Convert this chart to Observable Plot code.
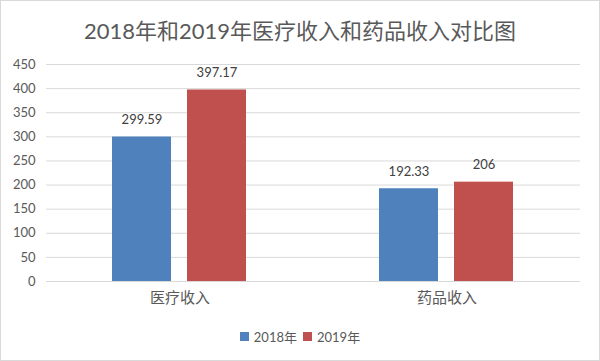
<!DOCTYPE html>
<html>
<head>
<meta charset="utf-8">
<script src="https://cdn.jsdelivr.net/npm/d3@7"></script>
<script src="https://cdn.jsdelivr.net/npm/@observablehq/plot@0.6"></script>
<style>
  html, body { margin: 0; padding: 0; background: #fff; }
  #wrap { width: 600px; height: 361px; box-sizing: border-box; border: 1px solid #d9d9d9; font-family: Lato, "Noto Sans CJK SC", sans-serif; overflow: hidden; }
  #title { height: 50px; box-sizing: border-box; padding-top: 8px; line-height: 44px; text-align: center; font-size: 22px; color: #595959; }
  #legend { height: 47px; display: flex; justify-content: center; align-items: center; font-size: 13px; color: #595959; padding-left: 0px; }
  .item { display: flex; align-items: center; margin: 0 3px; }
  .sw { width: 9px; height: 9px; margin-right: 5px; }
  svg { display: block; }
</style>
</head>
<body>
<div id="wrap">
  <div id="title">2018年和2019年医疗收入和药品收入对比图</div>
  <div id="chart"></div>
  <div id="legend"></div>
</div>
<script>
const categories = ["医疗收入", "药品收入"];
const years = ["2018年", "2019年"];
const values2018 = [299.59, 192.33];
const values2019 = [397.17, 206];
const yTicks = [0, 50, 100, 150, 200, 250, 300, 350, 400, 450];
const colors = ["#4f81bd", "#c0504d"];

const data = [];
categories.forEach((c, i) => {
  data.push({category: c, year: years[0], value: values2018[i]});
  data.push({category: c, year: years[1], value: values2019[i]});
});

const chart = Plot.plot({
  width: 598,
  height: 262,
  marginLeft: 45,
  marginRight: 19,
  marginTop: 13,
  marginBottom: 32,
  style: {fontFamily: 'Lato, "Noto Sans CJK SC", sans-serif', background: "#fff"},
  fx: {domain: categories, paddingInner: 0, paddingOuter: 0, label: null},
  x: {domain: years, paddingInner: 0.21, paddingOuter: 0.862, axis: null},
  y: {domain: [0, 450], ticks: yTicks, label: null},
  color: {domain: years, range: colors},
  marks: [
    Plot.gridY(yTicks, {stroke: "#d9d9d9", strokeOpacity: 1}),
    Plot.axisY(yTicks, {tickSize: 0, tickPadding: 11, fontSize: 13, fill: "#595959", label: null}),
    Plot.axisFx({anchor: "bottom", tickSize: 0, tickPadding: 11, fontSize: 15, fill: "#595959", label: null}),
    Plot.barY(data, {fx: "category", x: "year", y: "value", fill: "year"}),
    Plot.ruleY([0], {stroke: "#d9d9d9"}),
    Plot.text(data, {fx: "category", x: "year", y: "value", text: d => String(d.value), dy: -17, fontSize: 13, fill: "#404040"})
  ]
});
document.getElementById("chart").appendChild(chart);

const legend = document.getElementById("legend");
years.forEach((y, i) => {
  const item = document.createElement("div");
  item.className = "item";
  const sw = document.createElement("div");
  sw.className = "sw";
  sw.style.background = colors[i];
  const t = document.createElement("span");
  t.textContent = y;
  item.appendChild(sw);
  item.appendChild(t);
  legend.appendChild(item);
});
</script>
</body>
</html>
